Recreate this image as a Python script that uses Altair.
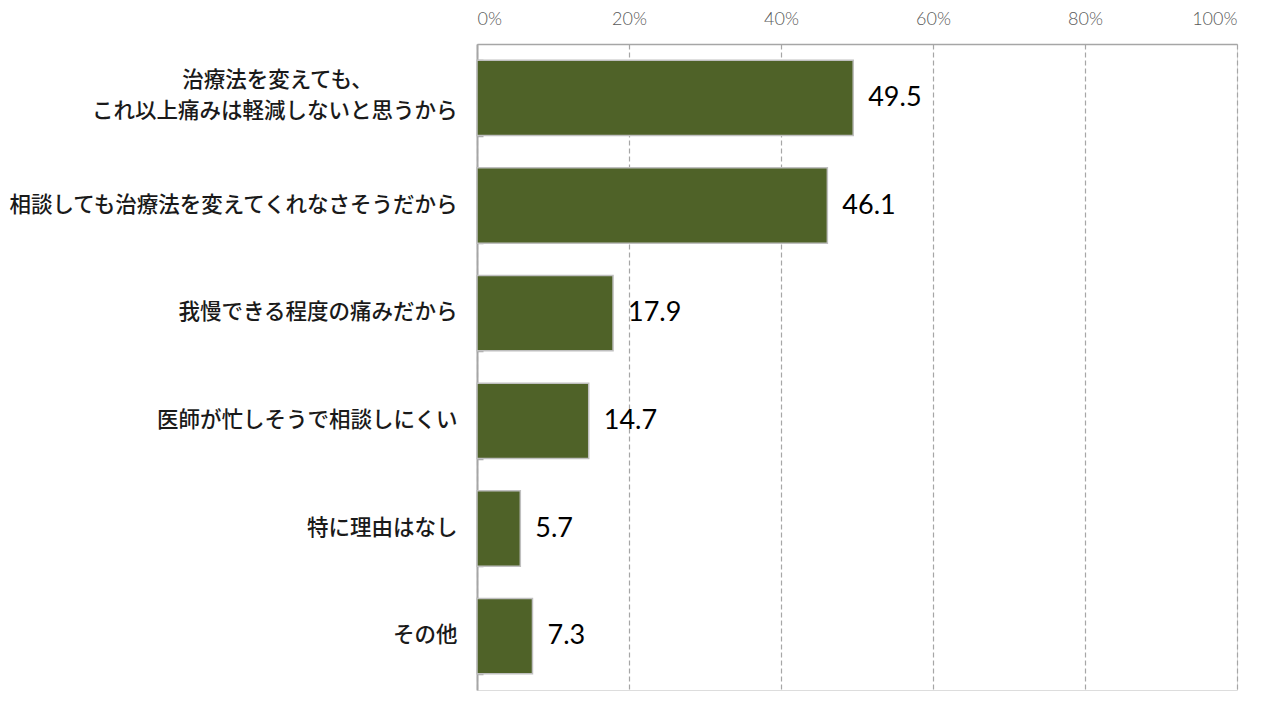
import altair as alt
import pandas as pd

categories = [
    "治療法を変えても、\nこれ以上痛みは軽減しないと思うから",
    "相談しても治療法を変えてくれなさそうだから",
    "我慢できる程度の痛みだから",
    "医師が忙しそうで相談しにくい",
    "特に理由はなし",
    "その他",
]
values = [49.5, 46.1, 17.9, 14.7, 5.7, 7.3]
x_ticks = [0, 20, 40, 60, 80, 100]

df = pd.DataFrame({"cat": categories, "val": values})

y_scale = alt.Scale(domain=categories, paddingInner=0.3, paddingOuter=0.15)
x_scale = alt.Scale(domain=[0, 100])

x_axis = alt.Axis(orient="top", values=x_ticks,
                  labelExpr="datum.value + '%'",
                  labelFont="Lato", labelFontSize=18, labelFontWeight=300,
                  labelColor="#595959", labelPadding=16,
                  ticks=False, tickSize=0,
                  domainColor="#a6a6a6", domainWidth=1.5,
                  grid=True, gridColor="#a6a6a6", gridDash=[5, 3],
                  gridWidth=1.2)

MULTI = "indexof(datum.label, '\\n') >= 0"

# main axis: right-aligned labels (second line of a two-line label)
bars = alt.Chart(df).mark_bar(
    color="#4f6228", stroke="#bfbfbf", strokeWidth=1.5
).encode(
    y=alt.Y("cat:N", scale=y_scale, sort=None, title=None,
            axis=alt.Axis(orient="left",
                          labelExpr="peek(split(datum.label, '\\n'))",
                          labelFont="Noto Sans CJK JP", labelFontSize=21.5,
                          labelFontWeight=500, labelColor="#1a1a1a",
                          labelOffset={"condition": {"test": MULTI, "value": 14}, "value": 0},
                          labelPadding=20, ticks=False, tickSize=0,
                          domainColor="#a6a6a6", domainWidth=2,
                          labelLimit=600, grid=False)),
    x=alt.X("val:Q", scale=x_scale, title=None, axis=x_axis),
)

# second axis: centred first line of a two-line label, and inward ticks
texts = alt.Chart(df).mark_text(
    align="left", baseline="middle", dx=15, font="Lato", fontSize=27,
    color="#000000"
).encode(
    y=alt.Y("cat:N", scale=y_scale, sort=None, title=None,
            axis=alt.Axis(orient="left",
                          labelExpr="length(split(datum.label, '\\n')) > 1 ? split(datum.label, '\\n')[0] : ''",
                          labelFont="Noto Sans CJK JP", labelFontSize=21.5,
                          labelFontWeight=500, labelColor="#1a1a1a",
                          labelAlign="center", labelPadding=200,
                          labelOffset=-17, labelLimit=600,
                          domain=False,
                          ticks=True, tickSize=6, tickColor="#a6a6a6",
                          tickWidth=1.5, tickBand="extent", offset=-6,
                          grid=False)),
    x=alt.X("val:Q", scale=x_scale, title=None, axis=x_axis),
    text=alt.Text("val:Q", format=".1f"),
)

chart = alt.layer(bars, texts).resolve_axis(y="independent").properties(
    width=760, height=646,
    autosize=alt.AutoSizeParams(type="none"),
    padding={"left": 469, "top": 36, "right": 25, "bottom": 3},
).configure_view(strokeWidth=0).configure(background="white")

chart.save("out.html", embed_options={"renderer": "svg", "actions": False})
